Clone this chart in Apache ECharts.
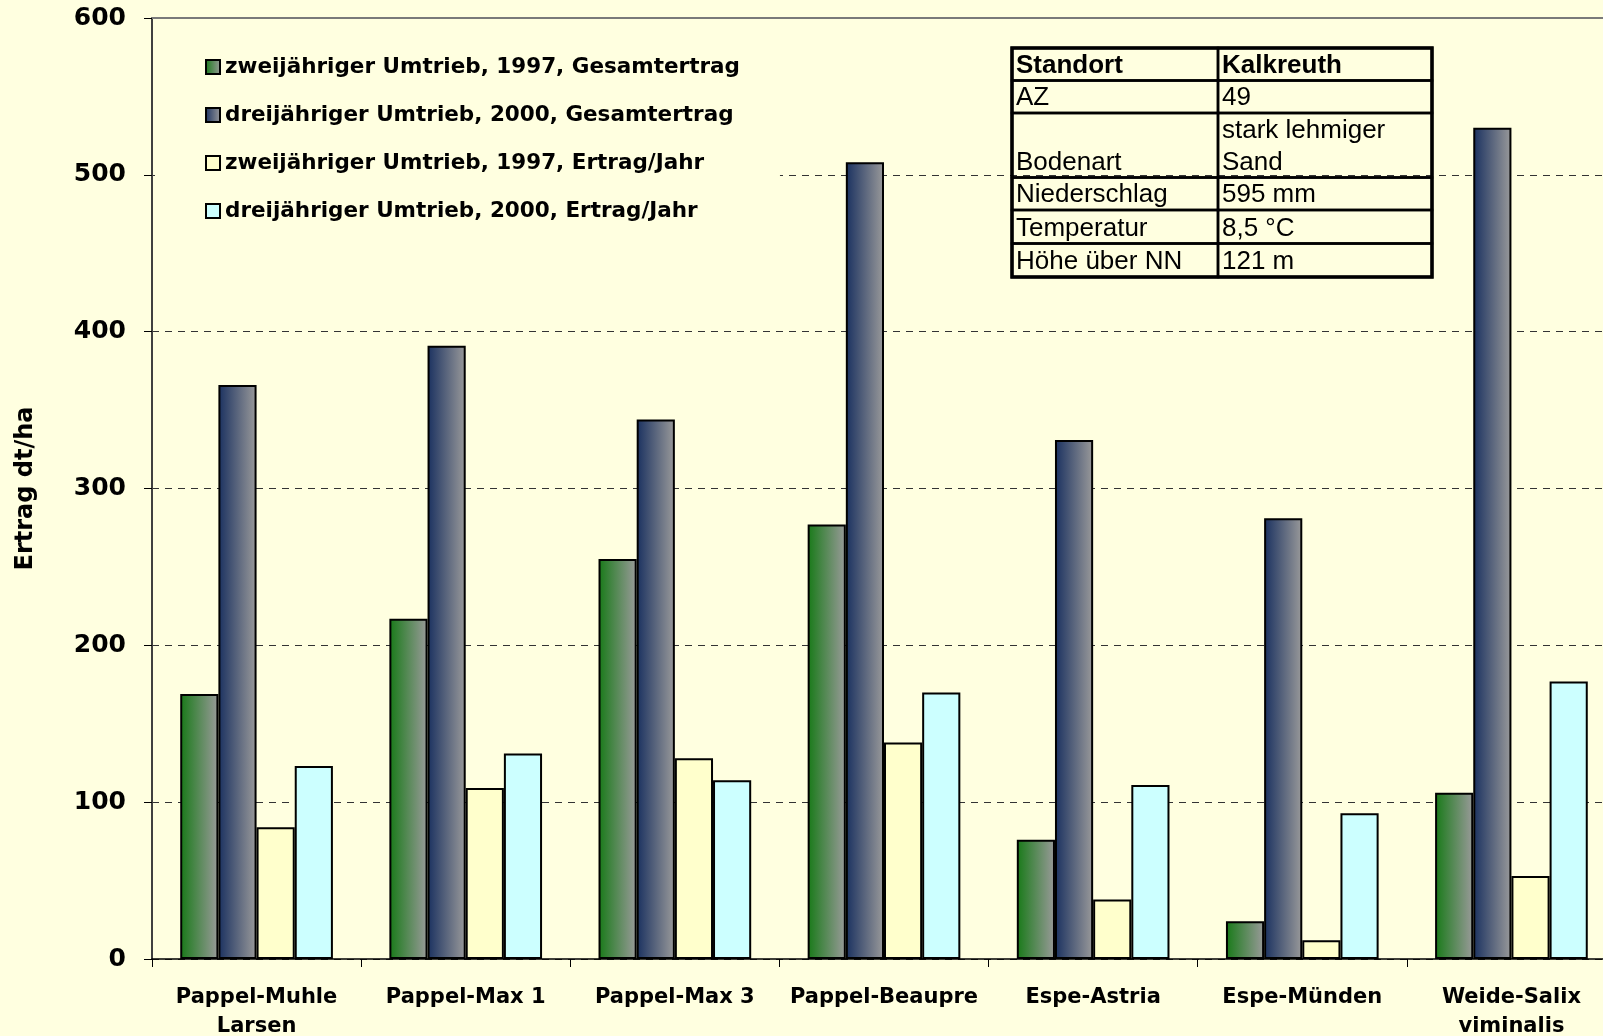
<!DOCTYPE html>
<html>
<head>
<meta charset="utf-8">
<script src="https://cdn.jsdelivr.net/npm/echarts@6/dist/echarts.min.js"></script>
<style>
html,body{margin:0;padding:0;background:#FFFFE0;overflow:hidden;}
#chart{width:1620px;height:1036px;}
</style>
</head>
<body>
<div id="chart"></div>
<script>
const categories = ['Pappel-Muhle\nLarsen', 'Pappel-Max 1', 'Pappel-Max 3', 'Pappel-Beaupre', 'Espe-Astria', 'Espe-Münden', 'Weide-Salix\nviminalis'];
const seriesNames = [
  'zweijähriger Umtrieb, 1997, Gesamtertrag',
  'dreijähriger Umtrieb, 2000, Gesamtertrag',
  'zweijähriger Umtrieb, 1997, Ertrag/Jahr',
  'dreijähriger Umtrieb, 2000, Ertrag/Jahr'
];
const zweiGesamt = [169, 217, 255, 277, 76, 24, 106];
const dreiGesamt = [366, 391, 344, 508, 331, 281, 530];
const zweiJahr = [84, 109, 128, 138, 38, 12, 53];
const dreiJahr = [123, 131, 114, 170, 111, 93, 177];
const yMin = 0, yMax = 600, yStep = 100;
const yTitle = 'Ertrag dt/ha';
const tableRows = [
  ['Standort', 'Kalkreuth'],
  ['AZ', '49'],
  ['Bodenart', 'stark lehmiger\nSand'],
  ['Niederschlag', '595 mm'],
  ['Temperatur', '8,5 °C'],
  ['Höhe über NN', '121 m']
];

const grad = (a, b) => new echarts.graphic.LinearGradient(0, 0, 1, 0, [
  {offset: 0, color: a}, {offset: 1, color: b}
]);
const fills = [grad('#187a18', '#9a9a9a'), grad('#1a3160', '#9a9a9a'), '#FFFFCC', '#CCFFFF'];
const values = [zweiGesamt, dreiGesamt, zweiJahr, dreiJahr];

const series = values.map((v, i) => ({
  name: seriesNames[i],
  type: 'bar',
  data: v,
  barGap: '0%',
  barCategoryGap: '27%',
  itemStyle: {color: fills[i], borderColor: '#000', borderWidth: 2},
  emphasis: {disabled: true}
}));

// table graphic (annotation box)
const tblX = 1012, tblSplit = 1218, tblRight = 1432;
const rowEdges = [48, 80.5, 113, 177.5, 210, 243.5, 277];
const graphics = [];
tableRows.forEach((row, r) => {
  const top = rowEdges[r], bot = rowEdges[r + 1];
  [[tblX, tblSplit], [tblSplit, tblRight]].forEach((c, ci) => {
    graphics.push({type: 'rect', shape: {x: c[0], y: top, width: c[1] - c[0], height: bot - top},
      style: {fill: 'none', stroke: '#000', lineWidth: 2.5}, z: 10});
    const lines = row[ci].split('\n');
    lines.forEach((ln, li) => {
      graphics.push({type: 'text', x: c[0] + 4, y: bot - 15 - (lines.length - 1 - li) * 32,
        style: {text: ln, fill: '#000', font: (r === 0 ? 'bold ' : '') + '26px "Liberation Sans", Arial, sans-serif',
          textVerticalAlign: 'middle', textAlign: 'left'}, z: 11});
    });
  });
});
graphics.push({type: 'rect', shape: {x: tblX, y: rowEdges[0], width: tblRight - tblX, height: rowEdges[6] - rowEdges[0]},
  style: {fill: 'none', stroke: '#000', lineWidth: 3.5}, z: 12});

const chart = echarts.init(document.getElementById('chart'), null, {renderer: 'canvas'});
chart.setOption({
  backgroundColor: '#FFFFE0',
  animation: false,
  grid: {left: 152, right: 4, top: 18, bottom: 77, outerBoundsMode: 'none', containLabel: false},
  legend: {
    orient: 'vertical',
    left: 155, top: 26,
    padding: [30, 40, 40, 50],
    backgroundColor: '#FFFFE0',
    itemWidth: 14, itemHeight: 14,
    itemGap: 26,
    icon: 'rect',
    textStyle: {fontFamily: '"DejaVu Sans", Verdana, sans-serif', fontWeight: 'bold', fontSize: 21.5, color: '#000', lineHeight: 22},
    data: seriesNames
  },
  xAxis: [{
    type: 'category',
    data: categories,
    axisLine: {lineStyle: {color: '#000', width: 1.5}},
    axisTick: {show: true, length: 8, interval: 0, lineStyle: {color: '#000'}},
    axisLabel: {interval: 0, fontFamily: '"DejaVu Sans", Verdana, sans-serif', fontWeight: 'bold', fontSize: 21, color: '#000', lineHeight: 29, margin: 24},
    splitLine: {show: false}
  }, {
    type: 'category',
    data: categories,
    position: 'top',
    axisLine: {lineStyle: {color: '#7a7a7a', width: 2}},
    axisTick: {show: false},
    axisLabel: {show: false}
  }],
  yAxis: {
    type: 'value',
    min: yMin, max: yMax, interval: yStep,
    name: yTitle,
    nameLocation: 'middle',
    nameGap: 114,
    nameRotate: 90,
    nameTextStyle: {fontFamily: '"DejaVu Sans", Verdana, sans-serif', fontWeight: 'bold', fontSize: 24, color: '#000'},
    axisLine: {show: true, lineStyle: {color: '#404040', width: 2}},
    axisTick: {show: true, length: 8, lineStyle: {color: '#000'}},
    axisLabel: {fontFamily: '"DejaVu Sans", Verdana, sans-serif', fontWeight: 'bold', fontSize: 25, color: '#000', margin: 26},
    splitLine: {show: true, lineStyle: {color: '#333', type: [7, 6], width: 1}}
  },
  series: series,
  graphic: graphics
});
</script>
</body>
</html>
